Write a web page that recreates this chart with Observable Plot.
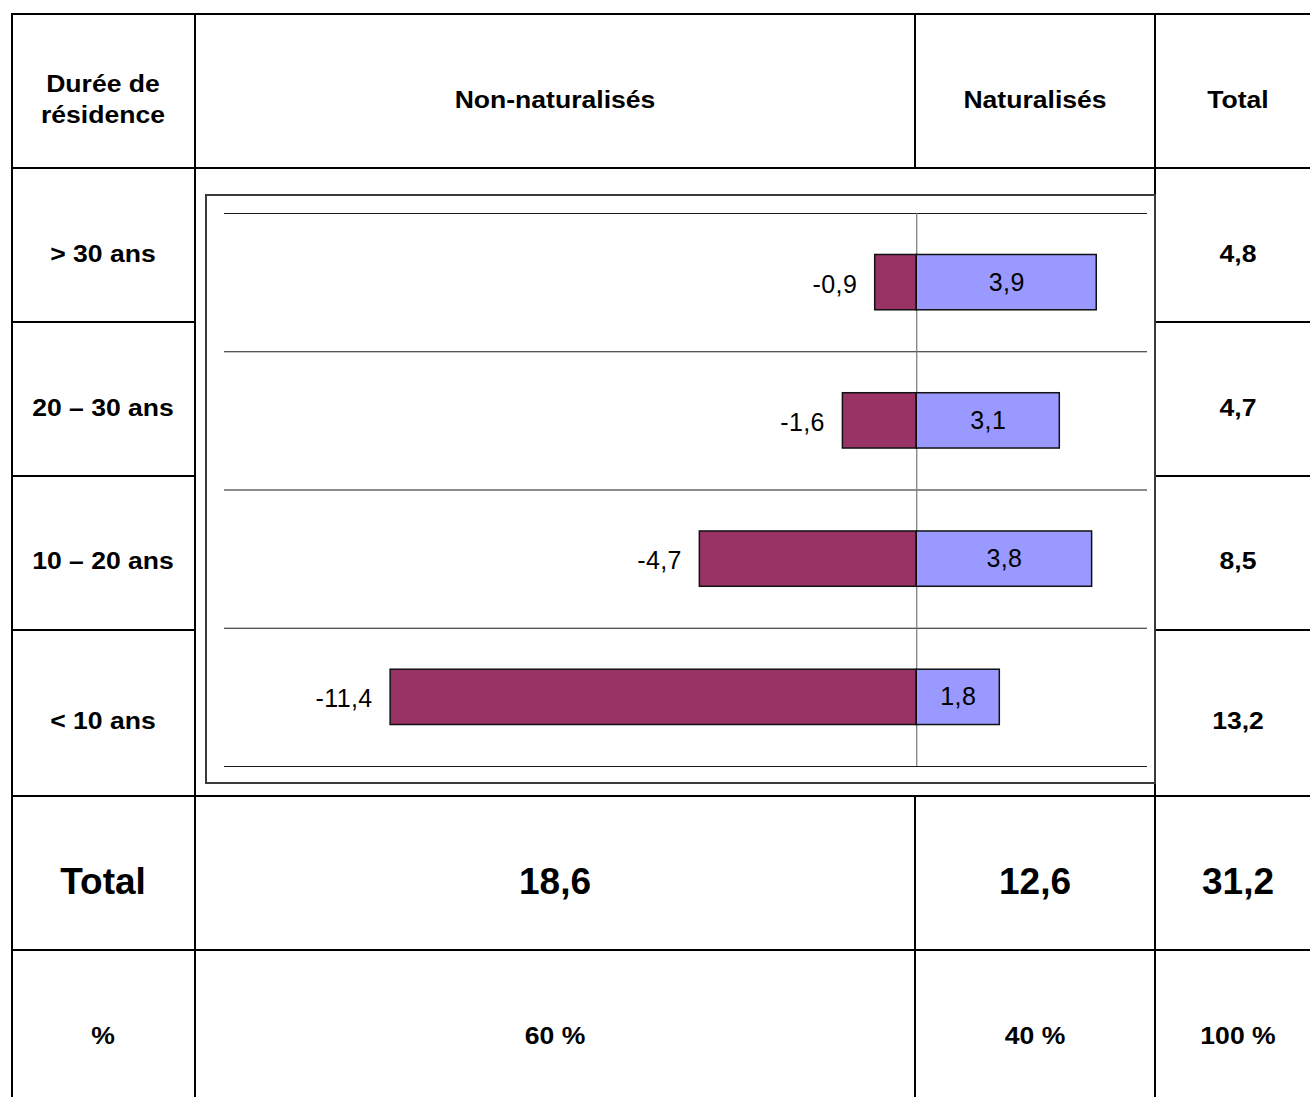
<!DOCTYPE html>
<html>
<head>
<meta charset="utf-8">
<script src="https://cdn.jsdelivr.net/npm/d3@7"></script>
<script src="https://cdn.jsdelivr.net/npm/@observablehq/plot@0.6"></script>
<style>
  html, body { margin: 0; padding: 0; background: #fff; }
  #page { position: relative; width: 1310px; height: 1097px; overflow: hidden; background: #fff;
          font-family: "Liberation Sans", Arial, Helvetica, sans-serif; color: #000; }
  .ln { position: absolute; background: #000; }
  .tx { position: absolute; width: 400px; text-align: center; font-weight: bold; white-space: nowrap; }
  .sm { font-size: 23.5px; line-height: 31px; transform: scaleX(1.13); transform-origin: 50% 50%; }
  .lg { font-size: 37px; line-height: 44px; }
  #box { position: absolute; box-sizing: border-box; border: 2px solid #3a3a3a; background: #fff; }
  #chart { position: absolute; }
</style>
</head>
<body>
<div id="page"></div>
<script>
// ---- data ----
const categories = ["> 30 ans", "20 – 30 ans", "10 – 20 ans", "< 10 ans"];
const nonNaturalises = [-0.9, -1.6, -4.7, -11.4];
const naturalises = [3.9, 3.1, 3.8, 1.8];
const rowTotals = ["4,8", "4,7", "8,5", "13,2"];
const headers = ["Non-naturalisés", "Naturalisés", "Total"];
const totalsRow = ["18,6", "12,6", "31,2"];
const percentRow = ["60 %", "40 %", "100 %"];

const page = document.getElementById("page");
const fmt = v => String(v).replace(".", ",");

// ---- table layout ----
const colX = [12, 195, 915, 1155, 1321];
const rowY = [14, 168, 322, 476, 630, 796, 950, 1110];
const colC = [103, 555, 1035, 1238];
const rowC = [254, 408, 561, 721];

function hline(y, x1, x2) {
  const d = document.createElement("div"); d.className = "ln";
  Object.assign(d.style, {left: x1 - 1 + "px", top: y - 1 + "px", width: (x2 - x1 + 2) + "px", height: "2px"});
  page.appendChild(d);
}
function vline(x, y1, y2) {
  const d = document.createElement("div"); d.className = "ln";
  Object.assign(d.style, {left: x - 1 + "px", top: y1 - 1 + "px", width: "2px", height: (y2 - y1 + 2) + "px"});
  page.appendChild(d);
}
function text(str, cx, cy, cls, lines = 1) {
  const d = document.createElement("div"); d.className = "tx " + cls;
  d.innerHTML = str;
  page.appendChild(d);
  const lh = cls === "lg" ? 44 : 31;
  Object.assign(d.style, {left: cx - 200 + "px", top: (cy - lh * lines / 2) + "px"});
}

// horizontal lines
hline(rowY[0], colX[0], 1310);
hline(rowY[1], colX[0], 1310);
for (let k = 2; k <= 4; k++) { hline(rowY[k], colX[0], colX[1]); hline(rowY[k], colX[3], 1310); }
hline(rowY[5], colX[0], 1310);
hline(rowY[6], colX[0], 1310);
// vertical lines
vline(colX[0], rowY[0], 1097);
vline(colX[1], rowY[0], 1097);
vline(colX[2], rowY[0], rowY[1]);
vline(colX[2], rowY[5], 1097);
vline(colX[3], rowY[0], 1097);

// texts
text("Durée de<br>résidence", colC[0], 100, "sm", 2);
headers.forEach((h, j) => text(h, colC[j + 1], 100, "sm"));
categories.forEach((c, i) => {
  text(c.replace("<", "&lt;").replace(">", "&gt;"), colC[0], rowC[i], "sm");
  text(rowTotals[i], colC[3], rowC[i], "sm");
});
text("Total", colC[0], 882, "lg");
totalsRow.forEach((t, j) => text(t, colC[j + 1], 882, "lg"));
text("%", colC[0], 1036, "sm");
percentRow.forEach((t, j) => text(t, colC[j + 1], 1036, "sm"));

// ---- chart ----
const box = document.createElement("div"); box.id = "box";
Object.assign(box.style, {left: "205px", top: "194px", width: "951px", height: "590px"});
page.appendChild(box);

const rows = categories.map((c, i) => ({cat: c, i, non: nonNaturalises[i], nat: naturalises[i]}));

const chart = Plot.plot({
  width: 946,
  height: 586,
  marginLeft: 17,
  marginRight: 6,
  marginTop: 17,
  marginBottom: 16,
  style: {fontFamily: "Liberation Sans, Arial, sans-serif", fontSize: "25px", letterSpacing: "0.4px", background: "transparent"},
  x: {domain: [-15, 5], axis: null},
  y: {domain: [0, categories.length], reverse: true, axis: null},
  marks: [
    Plot.ruleY(d3.range(categories.length + 1), {stroke: "#1a1a1a", strokeWidth: 1.2}),
    Plot.ruleX([0], {stroke: "#777", strokeWidth: 1.2}),
    Plot.rect(rows, {x1: d => 0, x2: "non", y1: d => d.i + 0.3, y2: d => d.i + 0.7,
                     fill: "#993366", stroke: "#111", strokeWidth: 1.5}),
    Plot.rect(rows, {x1: d => 0, x2: "nat", y1: d => d.i + 0.3, y2: d => d.i + 0.7,
                     fill: "#9999FF", stroke: "#111", strokeWidth: 1.5}),
    Plot.text(rows, {x: "non", y: d => d.i + 0.5, text: d => fmt(d.non), textAnchor: "end",
                     dx: -18, dy: 2, fill: "#000", fontSize: 25}),
    Plot.text(rows, {x: d => d.nat / 2, y: d => d.i + 0.5, text: d => fmt(d.nat), textAnchor: "middle",
                     fill: "#000", fontSize: 25})
  ]
});
chart.id = "chart";
Object.assign(chart.style, {left: "207px", top: "196px"});
page.appendChild(chart);
</script>
</body>
</html>
